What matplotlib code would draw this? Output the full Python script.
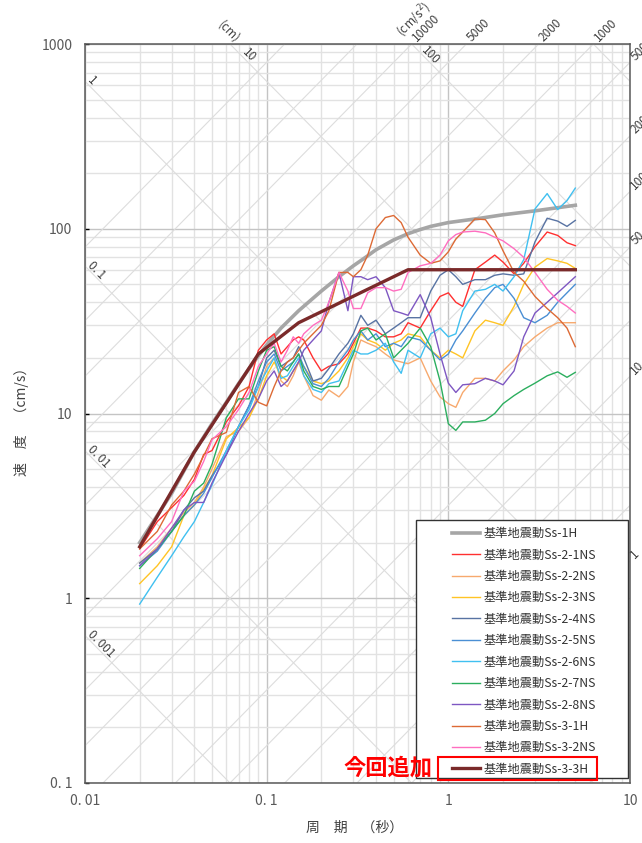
import numpy as np
import matplotlib
matplotlib.use('Agg')
import matplotlib.pyplot as plt
from matplotlib.patches import Rectangle
from matplotlib.ticker import NullFormatter

plt.rcParams['font.family'] = ['Noto Sans CJK JP', 'DejaVu Sans']

# periods (s) shared by the observed spectra
period = [0.02, 0.025, 0.03, 0.035, 0.04, 0.045, 0.05, 0.06, 0.07, 0.08,
          0.09, 0.1, 0.11, 0.12, 0.13, 0.14, 0.15, 0.16, 0.18, 0.2,
          0.22, 0.25, 0.28, 0.3, 0.33, 0.36, 0.4, 0.45, 0.5, 0.55,
          0.6, 0.7, 0.8, 0.9, 1.0, 1.1, 1.2, 1.4, 1.6, 1.8,
          2.0, 2.3, 2.6, 3.0, 3.5, 4.0, 4.5, 5.0]

ss2_1 = [1.85, 2.6, 3.1, 3.6, 4.4, 6.0, 6.3, 9.0, 11, 14,
         22, 25, 27, 21, 23, 25, 26, 25, 20, 17,
         18, 18.6, 21, 24, 29, 29, 28, 26, 26, 27,
         31, 29, 36, 43, 45, 40, 38, 60, 66, 72,
         66, 57, 65, 80, 96, 92, 84, 81]
ss2_2 = [1.55, 1.9, 2.4, 2.9, 3.3, 4.0, 5.0, 7.5, 8.0, 9.5,
         13, 18, 20, 15, 14, 16, 19, 16, 12.5, 11.8,
         13.4, 12.3, 14, 19, 25, 24, 23, 21, 19.5, 19,
         18.6, 20, 15, 12.3, 11.3, 10.8, 13, 15.5, 15.5, 15,
         17, 19.5, 23, 26, 29, 31, 31, 31]
ss2_3 = [1.2, 1.5, 1.9, 2.8, 3.2, 3.9, 4.6, 7.3, 8.4, 9.5,
         12, 16, 19, 16, 15, 17, 19, 18, 15, 14.5,
         15, 17, 20, 23, 27, 25, 24, 22, 24, 25,
         27, 26, 22, 20, 22, 21, 20, 28, 32, 31,
         30, 38, 50, 62, 69, 67, 65, 61]
ss2_4 = [1.55, 1.85, 2.3, 3.0, 3.5, 3.8, 4.6, 6.0, 8.5, 11,
         14, 20, 22, 18, 19, 20, 23, 20, 15, 15.5,
         17.5, 21, 24, 27, 34, 30, 32, 27, 29, 31,
         33, 33, 46, 56, 60, 55, 50, 53, 53, 56,
         57, 56, 57, 85, 114, 110, 103, 111]
ss2_5 = [1.5, 1.8, 2.3, 2.8, 3.2, 3.7, 4.5, 6.3, 8.5, 11,
         15, 19, 21, 17, 18, 19, 21, 18, 14.5, 14,
         15.5, 19, 22, 25, 28, 25, 27, 23, 24, 23,
         26, 25, 22, 19.5, 21, 25, 28, 35, 42, 48,
         50, 42, 33, 31, 34, 40, 45, 50]
ss2_6 = [0.93, 1.3, 1.7, 2.15, 2.6, 3.3, 4.1, 6.3, 8.5, 10.5,
         14, 17, 20, 15.5, 16, 18, 20, 16, 13.5, 13,
         14.5, 15, 19, 22, 21, 21, 22, 24, 19, 16.5,
         22, 20, 27, 29, 26, 27, 36, 46, 47, 50,
         46, 55, 68, 128, 155, 127, 142, 166]
ss2_7 = [1.45, 1.85, 2.3, 2.8, 3.8, 4.2, 5.3, 9.5, 12, 12,
         17, 22, 23, 18, 17, 19, 21, 17, 14, 13.5,
         14, 14, 18, 21, 28, 29, 25, 27, 20, 22,
         24, 29, 23, 15, 8.8, 8.1, 9.0, 9.0, 9.2, 10,
         11.3, 12.5, 13.5, 14.6, 16, 16.8, 15.7, 16.7]
ss2_8 = [1.5, 1.85, 2.4, 3.0, 3.3, 3.3, 4.2, 6.0, 8.0, 10,
         12, 15, 17, 14, 15, 17, 19, 22, 25, 28,
         40, 58, 36, 55, 55, 53, 55, 48, 36, 35,
         34, 44, 33, 21, 14.6, 13, 14.3, 14.5, 15.5, 15,
         14.3, 17, 26, 35, 40, 45, 50, 55]
ss3_1 = [1.85, 2.3, 3.2, 3.8, 4.7, 5.9, 7.3, 7.9, 13, 14,
         11.5, 11, 14, 17, 19, 20, 22, 24, 27, 30,
         36, 58, 58, 55, 60, 72, 100, 115, 118, 108,
         90, 72, 65, 67, 75, 88, 96, 113, 112, 95,
         76, 58, 52, 43, 37, 33, 29, 23]
ss3_2 = [1.7, 2.1, 2.6, 3.8, 4.3, 5.5, 7.2, 8.5, 10.5, 13,
         18, 21, 24, 19, 22, 26, 24, 27, 30, 32,
         40, 58, 46, 37, 37, 45, 48, 48, 46, 47,
         58, 63, 65, 72, 86, 93, 96, 97, 95, 90,
         86, 78, 70, 58, 47, 41, 38, 35]

# design spectra
period_1h = [0.02, 0.03, 0.04, 0.05, 0.06, 0.07, 0.08, 0.09, 0.1, 0.12, 0.15,
             0.2, 0.25, 0.3, 0.35, 0.4, 0.5, 0.6, 0.7, 0.8, 1.0, 1.5, 2.0, 3.0, 4.0, 5.0]
ss1_h = [2.0, 3.7, 6.2, 8.8, 11.5, 14.5, 17.5, 20.5, 23.5, 29, 36,
         46, 55, 63, 70, 77, 87, 94, 99, 103, 108, 114, 119, 125, 130, 134]
period_3h = [0.02, 0.04, 0.09, 0.15, 0.6, 5.0]
ss3_3 = [1.9, 6.2, 21, 31, 60, 60]

names = ['基準地震動Ss-1H', '基準地震動Ss-2-1NS', '基準地震動Ss-2-2NS', '基準地震動Ss-2-3NS',
         '基準地震動Ss-2-4NS', '基準地震動Ss-2-5NS', '基準地震動Ss-2-6NS', '基準地震動Ss-2-7NS',
         '基準地震動Ss-2-8NS', '基準地震動Ss-3-1H', '基準地震動Ss-3-2NS', '基準地震動Ss-3-3H']
colors = ['#A6A6A6', '#FF3030', '#F7A96E', '#FFC425', '#5873A3', '#4A8FD4',
          '#40C0F0', '#2BAE5E', '#7E57C2', '#DD6A35', '#FF6EC0', '#7A2A2A']

disp_lines = [0.001, 0.01, 0.1, 1, 10, 100, 1000]          # cm
acc_lines = [1, 2, 5, 10, 20, 50, 100, 200, 500, 1000, 2000, 5000, 10000, 20000, 50000]  # cm/s2
left_disp = [(1, '1'), (0.1, '0. 1'), (0.01, '0. 01'), (0.001, '0. 001')]
top_disp = [(10, '10'), (100, '100')]
top_acc = [(10000, '10000'), (5000, '5000'), (2000, '2000'), (1000, '1000')]
right_acc = [(500, '500'), (200, '200'), (100, '100'), (50, '50'), (10, '10'), (1, '1')]

W, H = 642, 843
fig = plt.figure(figsize=(W / 100, H / 100), dpi=100)
ax = fig.add_axes([85 / W, 60 / H, 545 / W, 739 / H])
ax.set_xscale('log')
ax.set_yscale('log')
ax.set_xlim(0.01, 10)
ax.set_ylim(0.1, 1000)

ax.grid(True, which='minor', color='#E2E2E2', lw=1.0, zorder=0)
ax.grid(True, which='major', color='#C4C4C4', lw=1.0, zorder=0)
ax.set_axisbelow(True)

tt = np.array([0.01, 10.0])
for d in disp_lines:
    ax.plot(tt, 2 * np.pi * d / tt, color='#DDDDDD', lw=0.8, zorder=0.8)
for a in acc_lines:
    ax.plot(tt, a * tt / (2 * np.pi), color='#DDDDDD', lw=0.8, zorder=0.8)

series = [ss2_1, ss2_2, ss2_3, ss2_4, ss2_5, ss2_6, ss2_7, ss2_8, ss3_1, ss3_2]
handles = []
h, = ax.plot(period_1h, ss1_h, color=colors[0], lw=2.6, zorder=2, label=names[0])
handles.append(h)
for i, s in enumerate(series):
    h, = ax.plot(period, s, color=colors[i + 1], lw=1.0, zorder=3, label=names[i + 1])
    handles.append(h)
h, = ax.plot(period_3h, ss3_3, color=colors[11], lw=2.4, zorder=4, label=names[11])
handles.append(h)

ax.set_xticks([0.01, 0.1, 1, 10], ['0. 01', '0. 1', '1', '10'])
ax.set_yticks([0.1, 1, 10, 100, 1000], ['0. 1', '1', '10', '100', '1000'])
ax.xaxis.set_minor_formatter(NullFormatter())
ax.yaxis.set_minor_formatter(NullFormatter())
ax.tick_params(which='minor', length=0)
ax.tick_params(axis='x', which='major', length=0, pad=8, labelsize=10, labelcolor='#595959')
ax.tick_params(axis='y', which='major', direction='in', length=3, width=1, pad=9,
               labelsize=10, labelcolor='#595959')
for sp in ax.spines.values():
    sp.set_color('#595959')
    sp.set_linewidth(1.1)

lab = dict(fontsize=8.5, color='#404040', textcoords='offset points', annotation_clip=False,
           rotation_mode='anchor')
for d, t in left_disp:
    ax.annotate(t, xy=(0.01, 2 * np.pi * d / 0.01), xytext=(3.5, 2), rotation=-45,
                ha='left', va='center', **lab)
for d, t in top_disp:
    ax.annotate(t, xy=(2 * np.pi * d / 1000, 1000), xytext=(13.7, -8.3), rotation=-45,
                ha='center', va='center', **lab)
ax.annotate('(cm)', xy=(2 * np.pi * 10 / 1000, 1000), xytext=(-0.7, 8.6), rotation=-45,
            ha='center', va='center', **lab)
for a, t in top_acc:
    ax.annotate(t, xy=(2 * np.pi * 1000 / a, 1000), xytext=(2, 3), rotation=45,
                ha='left', va='center', **lab)
ax.annotate('(cm/s$^2$)', xy=(2 * np.pi * 1000 / 10000, 1000), xytext=(1.5, 17.5), rotation=45,
            ha='center', va='center', **lab)
for a, t in right_acc:
    ax.annotate(t, xy=(10, a * 10 / (2 * np.pi)), xytext=(2, 3), rotation=45,
                ha='left', va='center', **lab)

# legend frame + entries
ax.add_patch(Rectangle((0.6073, 0.0068), 0.389, 0.349, transform=ax.transAxes,
                       facecolor='white', edgecolor='#333333', lw=1.0, zorder=5))
leg = ax.legend(handles=handles, loc='upper left',
                bbox_to_anchor=((452 - 85) / 545, (783 - 527) / 739),
                frameon=False, fontsize=8.8, labelspacing=0.69, handlelength=2.3,
                handletextpad=0.3, borderpad=0, borderaxespad=0)
leg.set_zorder(6)
for t in leg.get_texts():
    t.set_color('#333333')

ax.add_patch(Rectangle((0.6477, 0.0041), 0.2917, 0.0311, transform=ax.transAxes,
                       facecolor='none', edgecolor='#FF0000', lw=1.5, zorder=7))
ax.text(0.556, 0.0203, '今回追加', transform=ax.transAxes, fontsize=16, fontweight='bold',
        color='#FF0000', ha='center', va='center', zorder=7)

fig.text(22 / W, 1 - 418 / H, '速　度　（cm/s）', rotation=90, ha='center', va='center',
         fontsize=10, color='#404040')
fig.text(355 / W, 1 - 828 / H, '周　期　（秒）', ha='center', va='center',
         fontsize=10, color='#404040')

fig.savefig('out.png', dpi=100)
